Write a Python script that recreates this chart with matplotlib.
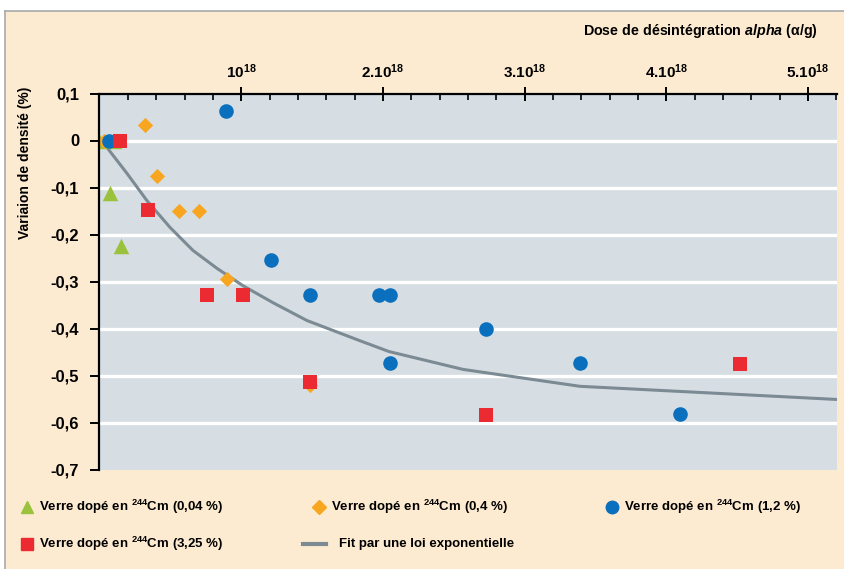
import matplotlib
matplotlib.use("Agg")
import matplotlib.pyplot as plt
from matplotlib.lines import Line2D
from matplotlib.patches import Rectangle

plt.rcParams['font.family'] = ['Liberation Sans', 'DejaVu Sans']
plt.rcParams['mathtext.fontset'] = 'custom'
plt.rcParams['mathtext.rm'] = 'Liberation Sans:bold'
plt.rcParams['mathtext.it'] = 'Liberation Sans:italic:bold'
plt.rcParams['mathtext.bf'] = 'Liberation Sans:bold'

# data (dose in 1e18 alpha/g, density change in %)
green_x = [0.0, 0.10, 0.074, 0.15]
green_y = [0.0, 0.0, -0.112, -0.224]
orange_x = [0.03, 0.321, 0.404, 0.563, 0.704, 0.898, 1.485]
orange_y = [0.0, 0.034, -0.076, -0.149, -0.149, -0.294, -0.52]
blue_x = [0.069, 0.893, 1.21, 1.485, 1.972, 2.05, 2.05, 2.725, 3.391, 4.097]
blue_y = [0.0, 0.063, -0.255, -0.328, -0.328, -0.328, -0.473, -0.40, -0.473, -0.581]
red_x = [0.145, 0.345, 0.757, 1.015, 1.485, 2.725, 4.52]
red_y = [0.0, -0.147, -0.329, -0.329, -0.514, -0.585, -0.475]
fit_x = [0.0, 0.053, 0.194, 0.335, 0.498, 0.66, 0.829, 1.013, 1.224, 1.464,
         1.838, 2.043, 2.565, 3.391, 5.205]
fit_y = [0.0, -0.015, -0.070, -0.128, -0.185, -0.234, -0.272, -0.309, -0.345,
         -0.383, -0.426, -0.449, -0.487, -0.523, -0.551]

x_ticks = [1, 2, 3, 4, 5]
x_labels = ["10$^{18}$", "2.10$^{18}$", "3.10$^{18}$", "4.10$^{18}$", "5.10$^{18}$"]
y_ticks = [0.1, 0, -0.1, -0.2, -0.3, -0.4, -0.5, -0.6, -0.7]
y_labels = ["0,1", "0", "-0,1", "-0,2", "-0,3", "-0,4", "-0,5", "-0,6", "-0,7"]

green = "#9bc23c"
orange = "#f8a51f"
blue = "#0a6fbd"
red = "#ec2a32"
grey = "#7c8a93"
cream = "#fdebd1"

W, H = 845, 569
fig = plt.figure(figsize=(W / 100, H / 100), dpi=100, facecolor="white")
fig.patches.append(Rectangle((5 / W, 0), 1, 1 - 11 / H, transform=fig.transFigure,
                             facecolor=cream, edgecolor="none", zorder=-10))
fig.add_artist(Line2D([5 / W, 1], [1 - 11 / H, 1 - 11 / H], color="#a7a9ab", lw=1.2))
fig.add_artist(Line2D([5 / W, 5 / W], [0, 1 - 11 / H], color="#a7a9ab", lw=1.2))

ax = fig.add_axes([99.5 / W, 1 - 469.5 / H, (836.7 - 99.5) / W, (469.5 - 93.5) / H])
ax.set_facecolor("#d6dee3")
ax.set_xlim(0, 5.203)
ax.set_ylim(-0.7, 0.1)

for yv in y_ticks[1:-1]:
    ax.axhline(yv, color="white", lw=2.4, zorder=1)

ax.plot(fit_x, fit_y, color=grey, lw=2.2, zorder=2)
ax.scatter(green_x, green_y, marker="^", s=125, color=green, zorder=3, linewidths=0)
ax.scatter(orange_x, orange_y, marker="D", s=60, color=orange, zorder=4, linewidths=0)
ax.scatter(blue_x, blue_y, marker="o", s=110, color=blue, zorder=5, linewidths=0)
ax.scatter(red_x, red_y, marker="s", s=95, color=red, zorder=6, linewidths=0)

for s in ["right", "bottom"]:
    ax.spines[s].set_visible(False)
for s in ["left", "top"]:
    ax.spines[s].set_linewidth(1.6)
    ax.spines[s].set_zorder(7)

ax.xaxis.tick_top()
ax.set_xticks(x_ticks)
ax.set_xticklabels(x_labels, fontsize=11, fontweight="bold")
ax.set_xticks([i * 0.2 for i in range(1, 27) if i % 5 != 0], minor=True)
ax.tick_params(axis="x", which="major", direction="inout", length=9.5, width=1.4, pad=4)
ax.tick_params(axis="x", which="minor", direction="in", length=4, width=1.2)
ax.set_yticks(y_ticks)
ax.set_yticklabels(y_labels, fontsize=12, fontweight="bold")
ax.tick_params(axis="y", direction="out", length=6.5, width=1.4, pad=8)

fig.text(818 / W, 1 - 31 / H, "Dose de désintégration $alpha$ (α/g)",
         ha="right", va="center", fontsize=10.3, fontweight="bold")
fig.text(25 / W, 1 - 163 / H, "Variaion de densité (%)", rotation=90,
         ha="center", va="center", fontsize=10, fontweight="bold")

# legend
lax = fig.add_axes([0, 0, 1, 1], facecolor="none")
lax.set_xlim(0, W)
lax.set_ylim(H, 0)
lax.axis("off")
entries = [
    ("^", green, 27, 507, "Verre dopé en $^{244}$Cm (0,04 %)"),
    ("D", orange, 319, 507, "Verre dopé en $^{244}$Cm (0,4 %)"),
    ("o", blue, 612, 507, "Verre dopé en $^{244}$Cm (1,2 %)"),
    ("s", red, 27, 544, "Verre dopé en $^{244}$Cm (3,25 %)"),
]
for m, c, x, y, lab in entries:
    lax.plot([x], [y], marker=m, color=c, ms=9 if m != "D" else 7, lw=0)
    lax.text(x + 12, y, lab, ha="left", va="center", fontsize=9.5, fontweight="bold")
lax.plot([303, 326], [544, 544], color=grey, lw=3)
lax.text(339, 544, "Fit par une loi exponentielle", ha="left", va="center",
         fontsize=9.5, fontweight="bold")

fig.savefig("out.png", dpi=100, facecolor=fig.get_facecolor())
